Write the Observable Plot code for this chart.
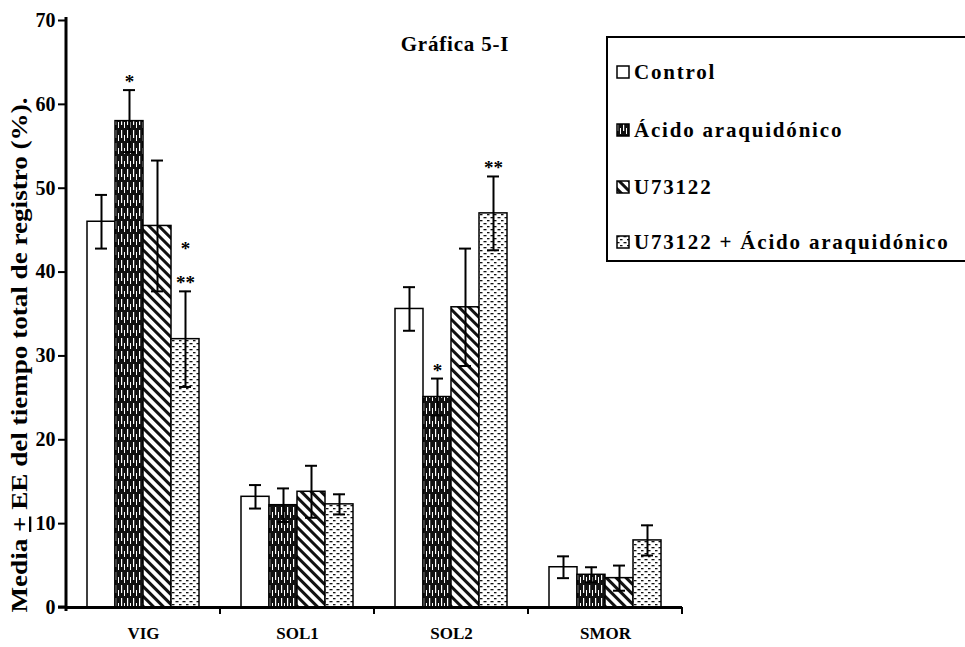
<!DOCTYPE html>
<html><head><meta charset="utf-8">
<script src="https://cdn.jsdelivr.net/npm/d3@7"></script>
<script src="https://cdn.jsdelivr.net/npm/@observablehq/plot@0.6"></script>
<style>
body{margin:0;background:#fff;}
#wrap{position:relative;width:965px;height:647px;overflow:hidden;font-family:"Liberation Serif",serif;font-weight:bold;background:#fff;}
#legend{position:absolute;left:606px;top:36px;width:400px;height:226px;border:2px solid #000;border-right:none;box-sizing:border-box;}
.item{position:absolute;left:8px;display:flex;align-items:center;font-size:21px;letter-spacing:1.8px;white-space:nowrap;line-height:22px;}
.item svg{margin-right:4px;}
</style></head><body>
<div id="wrap"><div id="chart"></div><div id="legend"></div></div>
<script>
const categories = ["VIG", "SOL1", "SOL2", "SMOR"];
const series = ["Control", "Ácido araquidónico", "U73122", "U73122 + Ácido araquidónico"];
const control = [46, 13.2, 35.6, 4.8];
const acido = [58, 12.2, 25.1, 3.9];
const u73122 = [45.5, 13.8, 35.8, 3.5];
const u73122Acido = [32, 12.3, 47, 8];
const controlErr = [3.2, 1.4, 2.6, 1.3];
const acidoErr = [3.7, 2.0, 2.2, 0.9];
const u73122Err = [7.8, 3.1, 7.0, 1.5];
const u73122AcidoErr = [5.7, 1.2, 4.4, 1.8];
const yTicks = [0, 10, 20, 30, 40, 50, 60, 70];
const starCats = ["VIG", "VIG", "SOL2", "SOL2"];
const starSeries = ["Ácido araquidónico", "U73122 + Ácido araquidónico", "Ácido araquidónico", "U73122 + Ácido araquidónico"];
const starLabels = ["*", "*\n**", "*", "**"];
const patternIds = ["pCtrl", "pAA", "pU", "pUAA"];

const meansBySeries = [control, acido, u73122, u73122Acido];
const errsBySeries = [controlErr, acidoErr, u73122Err, u73122AcidoErr];
const rows = [];
categories.forEach((cat, i) => series.forEach((s, j) => rows.push({
  cat, series: s, mean: meansBySeries[j][i], err: errsBySeries[j][i], fill: `url(#${patternIds[j]})`
})));
const stars = starCats.map((cat, k) => {
  const r = rows.find(d => d.cat === cat && d.series === starSeries[k]);
  return {cat, series: starSeries[k], top: r.mean + r.err, label: starLabels[k]};
});

const plot = Plot.plot({
  width: 965, height: 647,
  marginLeft: 66, marginRight: 283, marginTop: 20, marginBottom: 40,
  style: {fontFamily: "Liberation Serif", fontWeight: "bold", fontSize: "16px", background: "white", color: "black"},
  fx: {domain: categories, padding: 0, label: null},
  x: {domain: series, paddingInner: 0, paddingOuter: 0.75, axis: null},
  y: {domain: [0, 70], label: null},
  color: {type: "identity"},
  marks: [
    Plot.barY(rows, {fx: "cat", x: "series", y: "mean", fill: "fill", stroke: "black", strokeWidth: 1.5}),
    Plot.ruleX(rows, {fx: "cat", x: "series", y1: d => d.mean - d.err, y2: d => d.mean + d.err, stroke: "black", strokeWidth: 2}),
    Plot.tickY(rows, {fx: "cat", x: "series", y: d => d.mean + d.err, insetLeft: 8, insetRight: 8, stroke: "black", strokeWidth: 2}),
    Plot.tickY(rows, {fx: "cat", x: "series", y: d => d.mean - d.err, insetLeft: 8, insetRight: 8, stroke: "black", strokeWidth: 2}),
    Plot.ruleY([0], {stroke: "black", strokeWidth: 3}),
    Plot.text(stars, {fx: "cat", x: "series", y: "top", text: "label", lineAnchor: "bottom", dy: -2, fontSize: 19, lineHeight: 1.8, fontWeight: "bold"}),
    Plot.axisY({ticks: yTicks, tickSize: 8, tickPadding: 3, fontSize: 20, label: null, strokeWidth: 2}),
    Plot.axisFx({anchor: "bottom", tickSize: 0, tickPadding: 19, fontSize: 17, label: null})
  ]
});
document.getElementById("chart").appendChild(plot);

const svg = d3.select(plot.tagName.toLowerCase() === "svg" ? plot : plot.querySelector("svg"));
svg.selectAll("g").filter(function() { return (this.getAttribute("aria-label") || "").startsWith("y-axis tick label"); })
  .each(function() {
    this.setAttribute("font-size", "20");
    this.style.setProperty("font-size", "20px", "important");
    d3.select(this).selectAll("text").attr("font-size", 20).style("font-size", "20px", "important");
  });
const defs = svg.insert("defs", ":first-child");
// Control: plain white
defs.append("pattern").attr("id", "pCtrl").attr("patternUnits", "userSpaceOnUse").attr("width", 4).attr("height", 4)
  .append("rect").attr("width", 4).attr("height", 4).attr("fill", "#fff");
// Ácido araquidónico: dark with broken white vertical lines
const pa = defs.append("pattern").attr("id", "pAA").attr("patternUnits", "userSpaceOnUse").attr("width", 6).attr("height", 13);
pa.append("rect").attr("width", 6).attr("height", 13).attr("fill", "#111");
pa.append("rect").attr("x", 1).attr("y", 0).attr("width", 1.2).attr("height", 8).attr("fill", "#fff");
pa.append("rect").attr("x", 4).attr("y", 5).attr("width", 1).attr("height", 6).attr("fill", "#fff");
// U73122: diagonal hatching
const pu = defs.append("pattern").attr("id", "pU").attr("patternUnits", "userSpaceOnUse").attr("width", 7).attr("height", 7).attr("patternTransform", "rotate(-45)");
pu.append("rect").attr("width", 7).attr("height", 7).attr("fill", "#fff");
pu.append("rect").attr("width", 3).attr("height", 7).attr("fill", "#111");
// U73122 + AA: small dashes
const pd = defs.append("pattern").attr("id", "pUAA").attr("patternUnits", "userSpaceOnUse").attr("width", 7).attr("height", 6);
pd.append("rect").attr("width", 7).attr("height", 6).attr("fill", "#fff");
pd.append("rect").attr("x", 0.5).attr("y", 1).attr("width", 3).attr("height", 1.3).attr("fill", "#111");
pd.append("rect").attr("x", 4).attr("y", 4).attr("width", 2.5).attr("height", 1.3).attr("fill", "#111");

const y = plot.scale("y"), fx = plot.scale("fx");
const y0 = y.apply(0), yTop = y.apply(70);
const axisX = 66;
svg.append("line").attr("x1", axisX).attr("x2", axisX).attr("y1", yTop - 3).attr("y2", y0 + 4).attr("stroke", "black").attr("stroke-width", 3);
svg.append("line").attr("x1", axisX - 8).attr("x2", axisX).attr("y1", y0).attr("y2", y0).attr("stroke", "black").attr("stroke-width", 3);
categories.forEach(c => {
  const xb = fx.apply(c) + fx.bandwidth;
  svg.append("line").attr("x1", xb).attr("x2", xb).attr("y1", y0).attr("y2", y0 + 7).attr("stroke", "black").attr("stroke-width", 2);
});
svg.append("text").attr("x", 455).attr("y", 51).attr("text-anchor", "middle").attr("font-size", 21).attr("letter-spacing", "0.8px").attr("font-weight", "bold").text("Gráfica 5-I");
const yl = svg.append("text").attr("transform", "translate(27,355) rotate(-90)").attr("text-anchor", "middle").attr("font-size", 23).attr("font-weight", "bold")
  .attr("textLength", 515).attr("lengthAdjust", "spacingAndGlyphs");
yl.append("tspan").text("Media ");
yl.append("tspan").attr("text-decoration", "underline").text("+");
yl.append("tspan").text(" EE del tiempo total de registro (%).");

// Legend
const legend = d3.select("#legend");
const centers = [34, 92, 149, 204];
series.forEach((s, j) => {
  const it = legend.append("div").attr("class", "item").style("top", (centers[j] - 11) + "px");
  const sw = it.append("svg").attr("width", 14).attr("height", 14);
  sw.append("rect").attr("x", 1).attr("y", 1).attr("width", 12).attr("height", 12).attr("fill", `url(#${patternIds[j]})`).attr("stroke", "black").attr("stroke-width", 1.5);
  it.append("span").text(s);
});
</script>
</body></html>
